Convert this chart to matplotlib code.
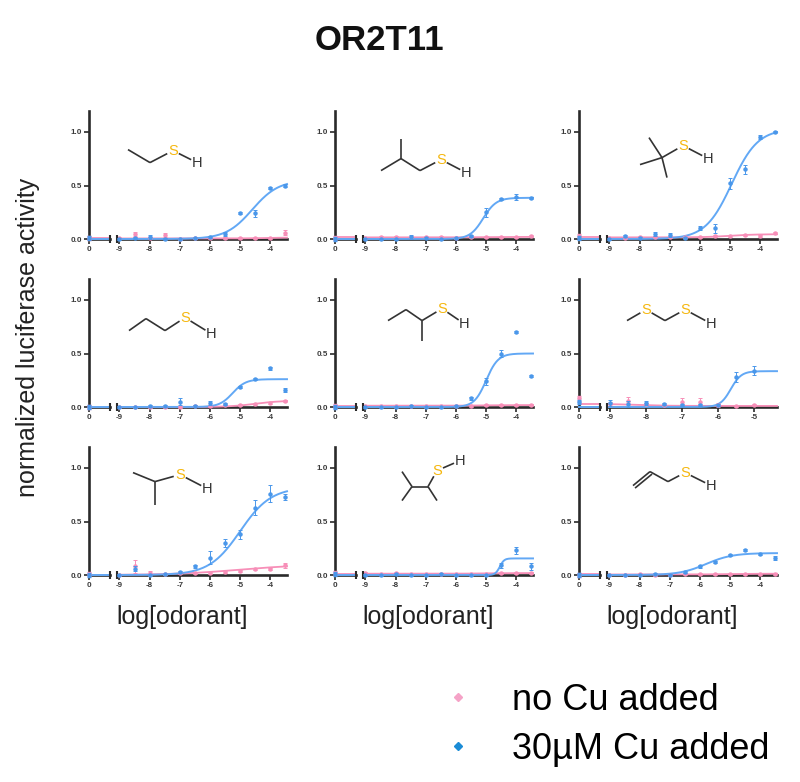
import numpy as np
import matplotlib
matplotlib.use("Agg")
import matplotlib.pyplot as plt
from matplotlib.lines import Line2D

plt.rcParams['font.family'] = ['Liberation Sans', 'DejaVu Sans']

# ---------------- data ----------------
doses = [-9, -8.5, -8, -7.5, -7, -6.5, -6, -5.5, -5, -4.5, -4, -3.5]
doses_short = [-9, -8.5, -8, -7.5, -7, -6.5, -6, -5.5, -5]

odorants = ["ethanethiol", "2-methylpropane-1-thiol", "2-methylpropane-2-thiol",
            "propane-1-thiol", "butane-2-thiol", "(methylthio)methanethiol",
            "propane-2-thiol", "3-methylbutane-2-thiol", "allyl mercaptan"]

# 30 uM Cu added (means / sem)
cu_ethanethiol = [0.0, 0.01, 0.02, 0.0, 0.0, 0.01, 0.02, 0.05, 0.24, 0.24, 0.48, 0.50]
cu_ethanethiol_err = [0.01, 0.01, 0.02, 0.01, 0.01, 0.01, 0.01, 0.02, 0.01, 0.03, 0.01, 0.01]
cu_isobutyl = [0.0, 0.0, 0.0, 0.02, 0.01, 0.0, 0.01, 0.03, 0.25, 0.37, 0.39, 0.38]
cu_isobutyl_err = [0.01, 0.01, 0.01, 0.02, 0.01, 0.01, 0.01, 0.01, 0.04, 0.01, 0.03, 0.01]
cu_tertbutyl = [0.0, 0.03, 0.01, 0.05, 0.04, 0.01, 0.10, 0.10, 0.52, 0.65, 0.95, 1.0]
cu_tertbutyl_err = [0.01, 0.01, 0.01, 0.02, 0.02, 0.01, 0.02, 0.04, 0.05, 0.04, 0.02, 0.01]
cu_propanethiol = [0.0, 0.0, 0.01, 0.01, 0.05, 0.01, 0.04, 0.03, 0.19, 0.26, 0.36, 0.16]
cu_propanethiol_err = [0.01, 0.01, 0.01, 0.01, 0.03, 0.01, 0.02, 0.01, 0.01, 0.01, 0.01, 0.02]
cu_butanethiol = [0.0, 0.0, 0.0, 0.01, 0.0, 0.0, 0.01, 0.08, 0.24, 0.50, 0.70, 0.29]
cu_butanethiol_err = [0.01, 0.01, 0.01, 0.01, 0.01, 0.01, 0.01, 0.01, 0.03, 0.03, 0.01, 0.01]
cu_methylthio = [0.04, 0.03, 0.04, 0.03, 0.02, 0.02, 0.02, 0.28, 0.34]
cu_methylthio_err = [0.03, 0.03, 0.02, 0.01, 0.01, 0.01, 0.01, 0.05, 0.04]
cu_isopropyl = [0.0, 0.06, 0.0, 0.01, 0.03, 0.08, 0.16, 0.30, 0.38, 0.63, 0.76, 0.73]
cu_isopropyl_err = [0.01, 0.02, 0.01, 0.01, 0.01, 0.01, 0.06, 0.04, 0.04, 0.07, 0.08, 0.03]
cu_methylbutane = [0.0, 0.0, 0.01, 0.0, 0.0, 0.01, 0.0, 0.0, 0.0, 0.09, 0.23, 0.08]
cu_methylbutane_err = [0.01, 0.01, 0.01, 0.01, 0.01, 0.01, 0.01, 0.01, 0.01, 0.02, 0.03, 0.03]
cu_allyl = [0.0, 0.0, 0.0, 0.01, 0.0, 0.03, 0.08, 0.12, 0.19, 0.23, 0.20, 0.16]
cu_allyl_err = [0.01, 0.01, 0.01, 0.01, 0.01, 0.01, 0.01, 0.01, 0.01, 0.01, 0.01, 0.02]

# no Cu added (means / sem)
nocu_ethanethiol = [0.01, 0.05, 0.01, 0.04, 0.0, 0.01, 0.01, 0.01, 0.01, 0.01, 0.01, 0.06]
nocu_ethanethiol_err = [0.01, 0.02, 0.01, 0.02, 0.01, 0.01, 0.01, 0.01, 0.01, 0.01, 0.01, 0.02]
nocu_isobutyl = [0.01, 0.02, 0.02, 0.02, 0.02, 0.02, 0.01, 0.02, 0.02, 0.02, 0.02, 0.03]
nocu_isobutyl_err = [0.01] * 12
nocu_tertbutyl = [0.01, 0.01, 0.02, 0.02, 0.02, 0.02, 0.02, 0.03, 0.03, 0.04, 0.03, 0.06]
nocu_tertbutyl_err = [0.01] * 12
nocu_propanethiol = [0.0, 0.0, 0.0, 0.0, 0.0, 0.01, 0.01, 0.02, 0.02, 0.03, 0.04, 0.06]
nocu_propanethiol_err = [0.01] * 12
nocu_butanethiol = [0.01, 0.01, 0.01, 0.01, 0.01, 0.01, 0.01, 0.01, 0.02, 0.02, 0.02, 0.02]
nocu_butanethiol_err = [0.01] * 12
nocu_methylthio = [0.03, 0.06, 0.03, 0.02, 0.05, 0.05, 0.02, 0.01, 0.02]
nocu_methylthio_err = [0.02, 0.03, 0.01, 0.01, 0.03, 0.03, 0.02, 0.01, 0.01]
nocu_isopropyl = [0.0, 0.08, 0.02, 0.01, 0.02, 0.02, 0.02, 0.03, 0.04, 0.06, 0.06, 0.09]
nocu_isopropyl_err = [0.01, 0.06, 0.02, 0.01, 0.01, 0.01, 0.01, 0.01, 0.01, 0.01, 0.01, 0.02]
nocu_methylbutane = [0.02, 0.01, 0.02, 0.01, 0.01, 0.01, 0.01, 0.01, 0.01, 0.02, 0.02, 0.02]
nocu_methylbutane_err = [0.01] * 12
nocu_allyl = [0.0, 0.0, 0.01, 0.0, 0.0, 0.01, 0.01, 0.01, 0.01, 0.01, 0.01, 0.01]
nocu_allyl_err = [0.01] * 12

# vehicle controls (plotted at "0")
cu_control = [0.01, 0.0, 0.01, 0.0, 0.0, 0.05, 0.0, 0.01, 0.0]
nocu_control = [0.01, 0.01, 0.03, 0.0, 0.01, 0.08, 0.01, 0.02, 0.0]

# fitted dose-response parameters
cu_top = [0.55, 0.385, 1.03, 0.26, 0.50, 0.335, 0.82, 0.155, 0.205]
cu_logec50 = [-4.6, -5.1, -4.95, -5.25, -5.0, -5.65, -5.0, -4.55, -5.8]
cu_hill = [1.0, 2.0, 1.0, 2.0, 2.2, 3.0, 0.85, 6.0, 1.0]
nocu_bottom = [0.005, 0.015, 0.015, 0.0, 0.012, 0.03, 0.0, 0.012, 0.005]
nocu_top = [0.015, 0.02, 0.045, 0.06, 0.018, 0.01, 0.10, 0.018, 0.012]
nocu_logec50 = [-4.0, -5.0, -5.0, -4.5, -5.0, -8.3, -5.0, -5.0, -5.0]
nocu_hill = [1.0, 1.0, 1.0, 1.0, 1.0, 1.0, 0.4, 1.0, 1.0]

x_max = [-3.45, -3.45, -3.45, -3.45, -3.45, -4.37, -3.45, -3.45, -3.45]

panel_doses = [doses, doses, doses, doses, doses, doses_short, doses, doses, doses]
panel_cu = [cu_ethanethiol, cu_isobutyl, cu_tertbutyl, cu_propanethiol, cu_butanethiol,
            cu_methylthio, cu_isopropyl, cu_methylbutane, cu_allyl]
panel_cu_err = [cu_ethanethiol_err, cu_isobutyl_err, cu_tertbutyl_err, cu_propanethiol_err,
                cu_butanethiol_err, cu_methylthio_err, cu_isopropyl_err, cu_methylbutane_err,
                cu_allyl_err]
panel_nocu = [nocu_ethanethiol, nocu_isobutyl, nocu_tertbutyl, nocu_propanethiol,
              nocu_butanethiol, nocu_methylthio, nocu_isopropyl, nocu_methylbutane, nocu_allyl]
panel_nocu_err = [nocu_ethanethiol_err, nocu_isobutyl_err, nocu_tertbutyl_err,
                  nocu_propanethiol_err, nocu_butanethiol_err, nocu_methylthio_err,
                  nocu_isopropyl_err, nocu_methylbutane_err, nocu_allyl_err]

# skeletal structures (illustrations, px offsets inside each panel)
molecules = [
    ([(39, 39, ''), (61, 52, ''), (84, 40, 'S'), (108, 52, 'H')], [(0, 1), (1, 2), (2, 3)]),
    ([(46, 60, ''), (66, 48, ''), (66, 28, ''), (85, 60, ''), (106, 49, 'S'), (131, 62, 'H')],
     [(0, 1), (1, 2), (1, 3), (3, 4), (4, 5)]),
    ([(83, 47, ''), (61, 54, ''), (70, 27, ''), (88, 67, ''), (104, 35, 'S'), (129, 48, 'H')],
     [(0, 1), (0, 2), (0, 3), (0, 4), (4, 5)]),
    ([(40, 52, ''), (57, 40, ''), (76, 52, ''), (96, 39, 'S'), (122, 55, 'H')],
     [(0, 1), (1, 2), (2, 3), (3, 4)]),
    ([(53, 42, ''), (71, 31, ''), (87, 42, ''), (87, 62, ''), (107, 30, 'S'), (129, 45, 'H')],
     [(0, 1), (1, 2), (2, 3), (2, 4), (4, 5)]),
    ([(48, 42, ''), (67, 31, 'S'), (86, 42, ''), (106, 31, 'S'), (132, 45, 'H')],
     [(0, 1), (1, 2), (2, 3), (3, 4)]),
    ([(44, 26, ''), (66, 35, ''), (66, 58, ''), (91, 28, 'S'), (118, 42, 'H')],
     [(0, 1), (1, 2), (1, 3), (3, 4)]),
    ([(67, 25, ''), (67, 54, ''), (77, 40, ''), (93, 40, ''), (102, 24, 'S'), (102, 54, ''), (125, 14, 'H')],
     [(0, 2), (1, 2), (2, 3), (3, 4), (3, 5), (4, 6)]),
    ([(54, 39, ''), (71, 25, ''), (89, 35, ''), (106, 26, 'S'), (132, 39, 'H')],
     [(0, 1), (1, 2), (2, 3), (3, 4)]),
]
double_bonds = {8: [(0, 1)]}


def logistic(x, bottom, top, logec50, hill):
    return bottom + (top - bottom) / (1 + 10 ** ((logec50 - x) * hill))


# ---------------- style ----------------
W, H = 800, 782
AX = '#2a2a2a'
BLUE_LINE = '#62a8f5'
BLUE_PT = '#4a97ea'
PINK = '#f78fb8'
S_COL = '#f5b70f'

fig = plt.figure(figsize=(W / 100, H / 100), dpi=100)
overlay = fig.add_axes([0, 0, 1, 1], zorder=5)
overlay.set_xlim(0, W)
overlay.set_ylim(H, 0)
overlay.axis('off')
overlay.patch.set_alpha(0)

col_x = [89, 335, 579]
row_base = [239, 407, 575]
ax_h = 128.4

tick_kw = dict(labelsize=5.8, width=1.2, length=3.5, color=AX, labelcolor='#3a3a3a', pad=1.5)

for i in range(9):
    r, c = divmod(i, 3)
    x0 = col_x[c]
    yb = row_base[r]
    ax0 = fig.add_axes([x0 / W, 1 - yb / H, 21 / W, ax_h / H])
    ax1 = fig.add_axes([(x0 + 28) / W, 1 - yb / H, 170 / W, ax_h / H])
    xmin = -9.08
    xmax = x_max[i]
    for ax in (ax0, ax1):
        ax.set_ylim(0, 1.2)
        ax.spines['top'].set_visible(False)
        ax.spines['right'].set_visible(False)
        ax.spines['bottom'].set_linewidth(1.9)
        ax.spines['bottom'].set_color(AX)
        ax.patch.set_alpha(0)
        ax.tick_params(**tick_kw)
    ax0.spines['left'].set_linewidth(1.9)
    ax0.spines['left'].set_color(AX)
    ax1.spines['left'].set_visible(False)
    ax0.set_xlim(0, 1)
    ax1.set_xlim(xmin, xmax)
    ax0.set_xticks([0])
    ax0.set_xticklabels(['0'])
    ax0.set_yticks([0, 0.5, 1.0])
    ax0.set_yticklabels(['0.0', '0.5', '1.0'])
    ax1.set_yticks([])
    ticks = np.arange(-9, np.floor(xmax) + 1)
    ax1.set_xticks(ticks)
    ax1.set_xticklabels([str(int(t)) for t in ticks])
    for lab in ax0.get_xticklabels() + ax0.get_yticklabels() + ax1.get_xticklabels():
        lab.set_fontweight('bold')
    # axis break marks
    ax0.plot([1], [0], marker='|', ms=6, mew=1.5, color=AX, clip_on=False, zorder=6)
    ax1.plot([xmin], [0], marker='|', ms=6, mew=1.5, color=AX, clip_on=False, zorder=6)

    xs = np.linspace(xmin, xmax, 300)
    pink_fit = logistic(xs, nocu_bottom[i], nocu_top[i], nocu_logec50[i], nocu_hill[i])
    blue_fit = logistic(xs, 0.0, cu_top[i], cu_logec50[i], cu_hill[i])
    ax1.plot(xs, pink_fit, color=PINK, lw=1.3, clip_on=False, zorder=3)
    ax1.plot(xs, blue_fit, color=BLUE_LINE, lw=1.4, clip_on=False, zorder=4)
    ax0.axhline(pink_fit[0], color=PINK, lw=1.3, clip_on=False, zorder=3)
    ax0.axhline(blue_fit[0], color=BLUE_LINE, lw=1.4, clip_on=False, zorder=4)

    ax1.errorbar(panel_doses[i], panel_nocu[i], yerr=panel_nocu_err[i], fmt='o', ms=2.2,
                 color=PINK, ecolor=PINK, elinewidth=0.7, capsize=1.2, capthick=0.7,
                 clip_on=False, zorder=5)
    ax1.errorbar(panel_doses[i], panel_cu[i], yerr=panel_cu_err[i], fmt='o', ms=2.2,
                 color=BLUE_PT, ecolor=BLUE_PT, elinewidth=0.7, capsize=1.2, capthick=0.7,
                 clip_on=False, zorder=6)
    ax0.errorbar([0], [nocu_control[i]], yerr=[0.02], fmt='o', ms=2.2, color=PINK,
                 ecolor=PINK, elinewidth=0.7, capsize=1.2, clip_on=False, zorder=5)
    ax0.errorbar([0], [cu_control[i]], yerr=[0.02], fmt='o', ms=2.2, color=BLUE_PT,
                 ecolor=BLUE_PT, elinewidth=0.7, capsize=1.2, clip_on=False, zorder=6)

    # molecule illustration
    atoms, bonds = molecules[i]
    ox, oy = x0, yb - ax_h
    for a, b in bonds:
        xa, ya, la = atoms[a]
        xb, yb2, lb = atoms[b]
        p = np.array([ox + xa, oy + ya], float)
        q = np.array([ox + xb, oy + yb2], float)
        d = q - p
        L = np.hypot(*d)
        u = d / L
        if la:
            p = p + u * 6.5
        if lb:
            q = q - u * 6.5
        overlay.plot([p[0], q[0]], [p[1], q[1]], color='#333333', lw=1.2,
                     solid_capstyle='butt')
        if (a, b) in double_bonds.get(i, []):
            n = np.array([-u[1], u[0]]) * 3.2
            overlay.plot([p[0] + n[0], q[0] + n[0]], [p[1] + n[1], q[1] + n[1]],
                         color='#333333', lw=1.2, solid_capstyle='butt')
    for (xa, ya, la) in atoms:
        if la:
            overlay.text(ox + xa, oy + ya, la, ha='center', va='center', fontsize=10.5,
                         color=S_COL if la == 'S' else '#333333')

# labels
fig.text(379 / W, 1 - 50 / H, 'OR2T11', ha='center', va='baseline', fontsize=25,
         fontweight='bold', color='#111111')
fig.text(28 / W, 1 - 337 / H, 'normalized luciferase activity', rotation=90,
         ha='center', va='center', fontsize=18, color='#222222')
for c in range(3):
    fig.text((col_x[c] + 93) / W, 1 - 624 / H, 'log[odorant]', ha='center', va='baseline',
             fontsize=18, color='#222222')

handles = [Line2D([], [], marker='D', ls='none', color='#f5a3c7', ms=4.5),
           Line2D([], [], marker='D', ls='none', color='#1b8cd6', ms=4.5)]
fig.legend(handles, ['no Cu added', '30\u00b5M Cu added'], loc='upper left',
           bbox_to_anchor=(440 / W, 1 - 683 / H), frameon=False, fontsize=26,
           handlelength=1.0, handletextpad=1.0, labelspacing=0.38, borderpad=0,
           borderaxespad=0)

fig.savefig('out.png', dpi=100)
